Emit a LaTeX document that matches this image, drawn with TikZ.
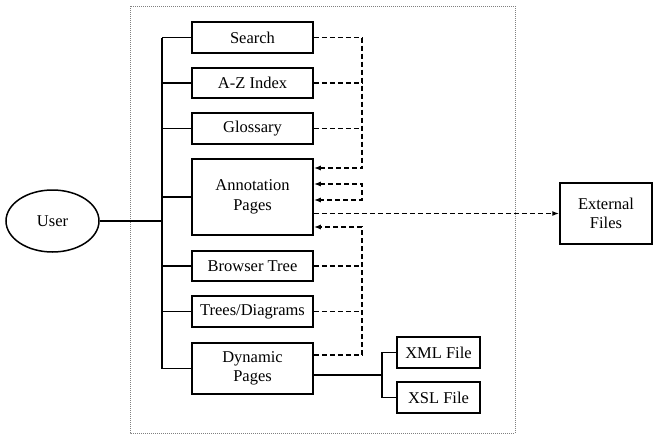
\documentclass[tikz,border=0pt]{standalone}
\usepackage{fontspec}
\setmainfont{Liberation Serif}
\usetikzlibrary{arrows.meta,shapes}

\begin{document}
\begin{tikzpicture}[x=1pt,y=-1pt,>={Latex[length=7pt,width=5pt]},
  page/.style={draw,line width=1.5pt,minimum width=121pt,inner sep=0pt,align=center,
    font=\fontsize{16.5}{19.5}\selectfont},
  file/.style={page,minimum width=83pt,minimum height=31pt},
  ref/.style={line width=1.4pt,dash pattern=on 5pt off 3pt}]
\useasboundingbox(0,0)rectangle(653,434);
% site boundary
\draw[gray,line width=0.8pt,dash pattern=on 1pt off 1pt](130,6)rectangle(515,433);
% pages of the site
\node[page,minimum height=31pt](search)at(252.5,37.5){Search};
\node[page,minimum height=30pt](az)at(252.5,83){A-Z Index};
\node[page,minimum height=31pt](gloss)at(252.5,128.5){Glossary};
\node[page,minimum height=76pt](annot)at(252.5,197){Annotation\\Pages};
\node[page,minimum height=30pt](browse)at(252.5,266){Browser Tree};
\node[page,minimum height=31pt](trees)at(252.5,311.5){Trees/Diagrams};
\node[page,minimum height=51pt](dyn)at(252.5,368.5){Dynamic\\Pages};
\node[ellipse,draw,line width=1.5pt,minimum width=93pt,minimum height=62pt,
  font=\fontsize{16.5}{19.5}\selectfont](user)at(52.5,221){User};
\node[page,minimum width=92pt,minimum height=61pt](ext)at(606,213.5){External\\Files};
\node[file](xml)at(438.5,352.5){XML File};
\node[file](xsl)at(438.5,397.5){XSL File};
\coordinate(bus)at(162,0);
\coordinate(rail)at(362,0);
\coordinate(fork)at(382,375);
% user to the pages
\draw[line width=1.4pt](user.east)--(user.east-|bus);
\draw[line width=1.4pt](search.west-|bus)--(dyn.west-|bus);
\foreach \p in {search,az,gloss,annot,browse,trees,dyn}
  \draw[line width=1.4pt](\p.west)--(\p.west-|bus);
% links into the annotation pages
\foreach \p in {search,az,gloss}
  \draw[ref](\p.east)--(\p.east-|rail);
\draw[ref,->](search.east-|rail)|-([yshift=29pt]annot.east);
\draw[ref,<->]([yshift=13pt]annot.east)--([yshift=13pt]annot.east-|rail)
  --([yshift=-3pt]annot.east-|rail)--([yshift=-3pt]annot.east);
\draw[ref,->](annot.east|-ext.west)--(ext.west);
\foreach \p in {browse,trees}
  \draw[ref](\p.east)--(\p.east-|rail);
\draw[ref](dyn.east)++(0,-13.5)--([yshift=13.5pt]dyn.east-|rail);
\draw[ref,->]([yshift=13.5pt]dyn.east-|rail)|-([yshift=-30pt]annot.east);
% xml and xsl behind the dynamic pages
\draw[line width=1.4pt](dyn.east|-fork)--(fork);
\draw[line width=1.4pt](xml.west)-|(fork)|-(xsl.west);
\end{tikzpicture}
\end{document}
